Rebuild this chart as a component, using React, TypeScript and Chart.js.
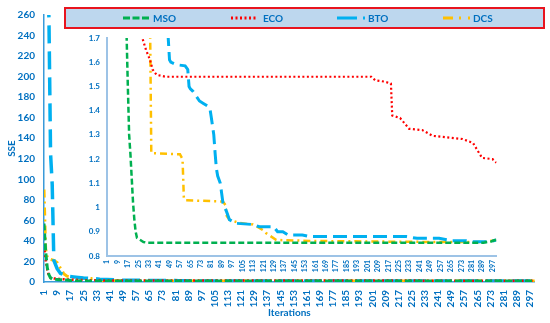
import React, { useEffect, useRef } from "react";
import { Chart, registerables } from "chart.js";

Chart.register(...registerables);

// ---------- data ----------
const seriesNames = ["MSO", "ECO", "BTO", "DCS"];
const xTickLabels = [1, 9, 17, 25, 33, 41, 49, 57, 65, 73, 81, 89, 97, 105, 113, 121, 129, 137, 145, 153, 161, 169, 177, 185, 193, 201, 209, 217, 225, 233, 241, 249, 257, 265, 273, 281, 289, 297];

const msoIter = [1, 2, 3, 4, 5, 6, 8, 10, 13, 15, 16, 17, 18, 19, 20, 21, 22, 23, 24, 26, 29, 32, 290, 296, 300];
const msoSSE = [57, 30, 14, 7, 4, 3, 2.6, 2.3, 2.0, 1.85, 1.72, 1.5, 1.3, 1.22, 1.12, 1.02, 0.95, 0.9, 0.875, 0.868, 0.858, 0.855, 0.855, 0.86, 0.868];

const ecoIter = [1, 2, 3, 4, 5, 7, 10, 15, 20, 25, 27, 31, 34, 36, 39, 46, 204, 207, 214, 219, 220, 226, 233, 243, 251, 262, 274, 282, 285, 289, 297, 300];
const ecoSSE = [35, 22, 12, 6, 4, 3.5, 3, 2.5, 2.1, 1.85, 1.72, 1.65, 1.61, 1.57, 1.548, 1.54, 1.54, 1.525, 1.52, 1.512, 1.38, 1.37, 1.325, 1.32, 1.296, 1.29, 1.283, 1.267, 1.24, 1.205, 1.2, 1.185];

const btoIter = [1, 3, 4, 5, 6, 7, 9, 11, 15, 19, 25, 35, 45, 47, 48, 49, 50, 54, 61, 63, 64, 65, 67, 72, 75, 78, 80, 81, 83, 84, 85, 86, 88, 90, 93, 95, 100, 113, 118, 129, 132, 136, 140, 151, 157, 231, 239, 256, 266, 277, 282, 295, 300];
const btoSSE = [300, 290, 258, 125, 95, 21, 13, 8.5, 5.7, 5, 4, 2.8, 2, 1.75, 1.7, 1.61, 1.6, 1.59, 1.585, 1.57, 1.5, 1.49, 1.48, 1.44, 1.43, 1.42, 1.41, 1.375, 1.3, 1.225, 1.16, 1.13, 1.1, 1.02, 0.98, 0.95, 0.935, 0.93, 0.921, 0.921, 0.9, 0.9, 0.887, 0.887, 0.88, 0.88, 0.873, 0.873, 0.863, 0.863, 0.859, 0.859, 0.866];

const dcsIter = [1, 2, 3, 4, 5, 6, 7, 9, 10, 12, 13, 15, 22, 27, 30, 32, 33, 34, 35, 57, 59, 60, 61, 90, 92, 93, 95, 103, 113, 118, 121, 123, 131, 160, 200, 250, 290, 300];
const dcsSSE = [90, 32, 24, 23, 22, 21.5, 21, 19, 16, 11, 8, 5.7, 3.8, 3.5, 3.3, 3.6, 2.5, 1.8, 1.225, 1.22, 1.2, 1.04, 1.03, 1.025, 1.01, 0.965, 0.95, 0.936, 0.93, 0.916, 0.906, 0.895, 0.866, 0.862, 0.86, 0.858, 0.858, 0.866];

// ---------- styles ----------
const FONT = "Lato, 'Open Sans', sans-serif";
const TEXT = "#0070C0";
const colors = ["#00B050", "#FF0000", "#00B0F0", "#FFC000"];
const mainDash = [[7, 3], [2, 2.5], [18, 8], [8, 4, 2, 4]];
const mainWidth = [3, 2.5, 3.5, 3];
const insetDash = [[6, 3], [2, 2.5], [14, 6], [7, 4, 2, 4]];
const insetWidth = [2.5, 2.2, 3, 2.5];
const legendDash = [[7, 2.5], [2, 2.5], [20, 6, 2, 20], [10, 6, 2, 7, 2, 20]];

const seriesIter = [msoIter, ecoIter, btoIter, dcsIter];
const seriesSSE = [msoSSE, ecoSSE, btoSSE, dcsSSE];

function buildDatasets(dashes: number[][], widths: number[]) {
  return seriesNames.map((name, i) => ({
    label: name,
    data: seriesIter[i].map((x, k) => ({ x, y: seriesSSE[i][k] })),
    borderColor: colors[i],
    backgroundColor: colors[i],
    borderDash: dashes[i],
    borderWidth: widths[i],
    pointRadius: 0,
    tension: 0,
    fill: false,
  }));
}

const legendPlugin = {
  id: "boxLegend",
  afterDraw(chart: any) {
    const ctx = chart.ctx;
    ctx.save();
    ctx.fillStyle = "#BDD7EE";
    ctx.fillRect(65, 8, 479, 20);
    ctx.strokeStyle = "#E8141E";
    ctx.lineWidth = 2;
    ctx.strokeRect(65, 8, 479, 20);
    const lineStart = [123, 231, 337, 443];
    const lineLen = [26, 26, 28, 27];
    const textX = [153, 263, 368, 473];
    seriesNames.forEach((name, i) => {
      ctx.beginPath();
      ctx.setLineDash(legendDash[i]);
      ctx.strokeStyle = colors[i];
      ctx.lineWidth = 3;
      ctx.moveTo(lineStart[i], 18);
      ctx.lineTo(lineStart[i] + lineLen[i], 18);
      ctx.stroke();
      ctx.setLineDash([]);
      ctx.fillStyle = TEXT;
      ctx.font = `bold 10px ${FONT}`;
      ctx.textBaseline = "middle";
      ctx.textAlign = "left";
      ctx.fillText(name, textX[i], 18.5);
    });
    ctx.restore();
  },
};

export default function App() {
  const mainRef = useRef<HTMLCanvasElement>(null);
  const insetRef = useRef<HTMLCanvasElement>(null);

  useEffect(() => {
    const main = new Chart(mainRef.current as HTMLCanvasElement, {
      type: "line",
      data: { datasets: buildDatasets(mainDash, mainWidth) as any },
      options: {
        animation: false,
        responsive: false,
        maintainAspectRatio: false,
        layout: { padding: { top: 8, right: 12, left: 0, bottom: 0 } },
        plugins: { legend: { display: false }, tooltip: { enabled: false } },
        scales: {
          x: {
            type: "linear",
            min: 1,
            max: 300,
            afterBuildTicks: (s: any) => {
              s.ticks = xTickLabels.map((v) => ({ value: v }));
            },
            afterFit: (s: any) => {
              s.height = 41;
            },
            ticks: {
              autoSkip: false,
              minRotation: 90,
              maxRotation: 90,
              padding: 8,
              color: TEXT,
              font: { family: FONT, size: 10, weight: "bold" },
              callback: (v: any) => String(v),
            },
            grid: { display: false, drawTicks: false },
            border: { display: true, color: "#3A9AD9", width: 1.5 },
            title: {
              display: true,
              text: "Iterations",
              color: TEXT,
              font: { family: FONT, size: 10, weight: "bold" },
              padding: { top: 0, bottom: 4 },
            },
          },
          y: {
            min: 0,
            max: 260,
            afterFit: (s: any) => {
              s.width = 44;
            },
            ticks: {
              stepSize: 20,
              padding: 9,
              color: TEXT,
              font: { family: FONT, size: 10, weight: "bold" },
            },
            grid: { display: false, drawTicks: false },
            border: { display: true, color: "#3A9AD9", width: 1.5 },
            title: {
              display: true,
              text: "SSE",
              color: TEXT,
              font: { family: FONT, size: 10, weight: "bold" },
              padding: { top: 6, bottom: 0 },
            },
          },
        },
      } as any,
      plugins: [legendPlugin],
    });

    const inset = new Chart(insetRef.current as HTMLCanvasElement, {
      type: "line",
      data: { datasets: buildDatasets(insetDash, insetWidth) as any },
      options: {
        animation: false,
        responsive: false,
        maintainAspectRatio: false,
        layout: { padding: { top: 13, right: 8, left: 0, bottom: 0 } },
        plugins: { legend: { display: false }, tooltip: { enabled: false } },
        scales: {
          x: {
            type: "linear",
            min: 1,
            max: 300,
            afterBuildTicks: (s: any) => {
              s.ticks = xTickLabels.map((v) => ({ value: v }));
            },
            afterFit: (s: any) => {
              s.height = 24;
            },
            ticks: {
              autoSkip: false,
              minRotation: 90,
              maxRotation: 90,
              padding: 4,
              color: TEXT,
              font: { family: FONT, size: 7, weight: "bold" },
              callback: (v: any) => String(v),
            },
            grid: { display: false, drawTicks: false },
            border: { display: true, color: "#9DC3E6", width: 2 },
          },
          y: {
            min: 0.8,
            max: 1.7,
            afterFit: (s: any) => {
              s.width = 47;
            },
            ticks: {
              stepSize: 0.1,
              padding: 7,
              color: TEXT,
              font: { family: FONT, size: 8, weight: "bold" },
              callback: (v: any) => String(Math.round(Number(v) * 10) / 10),
            },
            grid: { display: false, drawTicks: false },
            border: { display: true, color: "#9DC3E6", width: 2 },
          },
        },
      } as any,
    });

    return () => {
      main.destroy();
      inset.destroy();
    };
  }, []);

  return (
    <div style={{ position: "fixed", left: 0, top: 0, width: 550, height: 323, background: "#fff" }}>
      <canvas
        ref={mainRef}
        width={550}
        height={323}
        style={{ position: "absolute", left: 0, top: 0, width: 550, height: 323 }}
      />
      <canvas
        ref={insetRef}
        width={445}
        height={255}
        style={{ position: "absolute", left: 60, top: 25, width: 445, height: 255 }}
      />
    </div>
  );
}
